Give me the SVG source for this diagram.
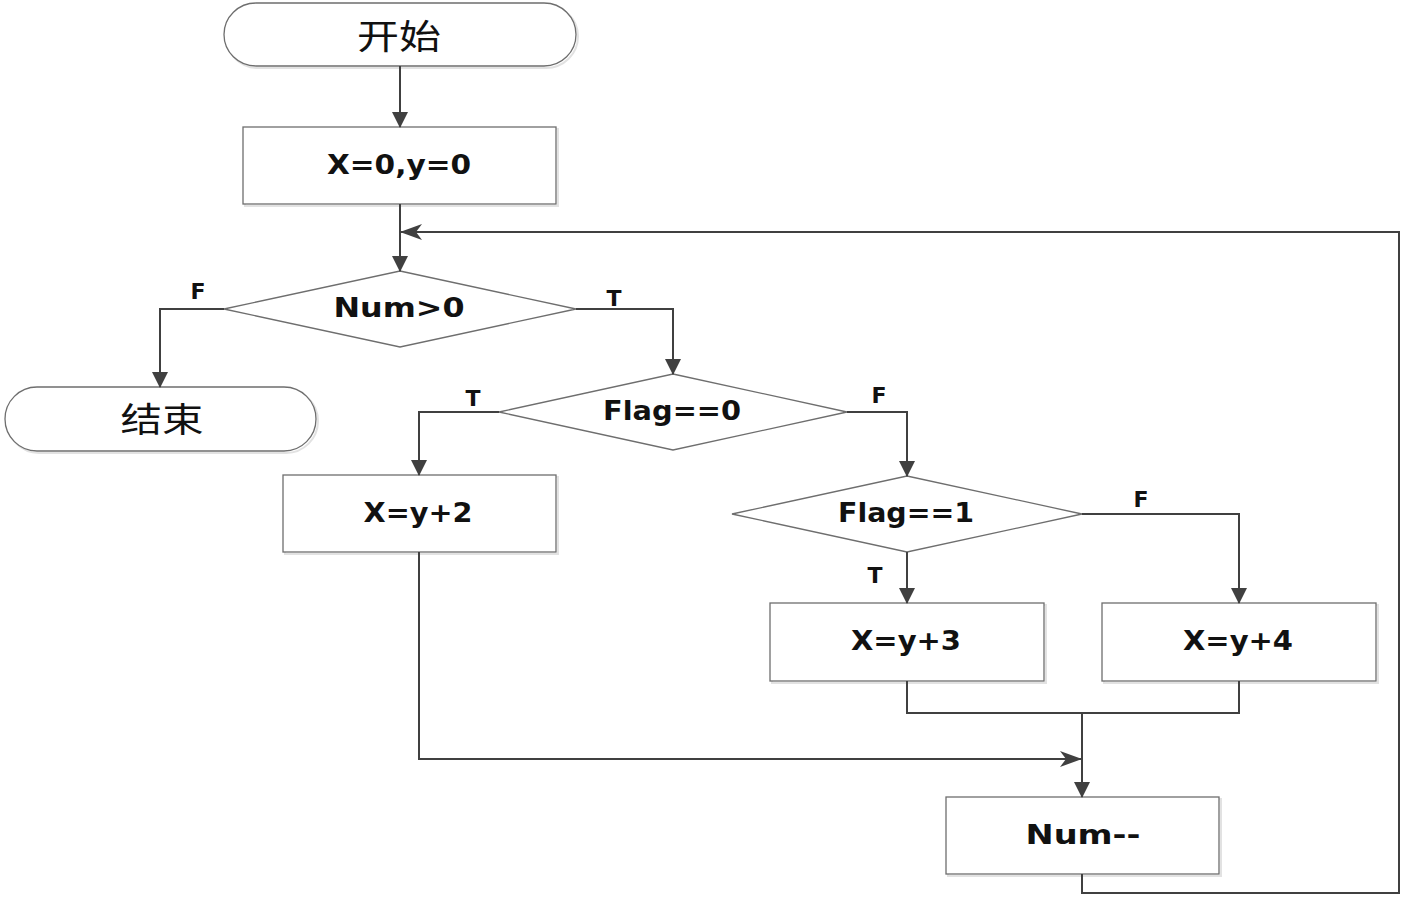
<svg xmlns="http://www.w3.org/2000/svg" width="1406" height="898" viewBox="0 0 1406 898">
<defs>
<marker id="arr" markerWidth="16" markerHeight="16" viewBox="0 0 16 16" refX="15" refY="8" orient="auto" markerUnits="userSpaceOnUse">
<path d="M0,0 L16,8 L0,16 z" fill="#404040"/>
</marker>
<marker id="arrs" markerWidth="22" markerHeight="16" viewBox="0 0 22 16" refX="21" refY="8" orient="auto" markerUnits="userSpaceOnUse">
<path d="M0,0 L22,8 L0,16 L6,8 z" fill="#404040"/>
</marker>
</defs>
<style>
.shape{fill:#ffffff;stroke:#6e6e6e;stroke-width:1.3}
.shadow{fill:none;stroke:#e2e2e2;stroke-width:2}
.lbl{font-family:"DejaVu Sans","Liberation Sans",sans-serif;font-weight:bold;font-size:26px;fill:#111;text-anchor:middle;dominant-baseline:central}
.tf{font-family:"DejaVu Sans","Liberation Sans",sans-serif;font-weight:bold;font-size:22px;fill:#111;text-anchor:middle;dominant-baseline:central}
.cjk{font-family:"Noto Sans CJK SC",sans-serif;font-size:34px;fill:#111;text-anchor:middle;dominant-baseline:central}
.conn{fill:none;stroke:#404040;stroke-width:2}
</style>
<g id="start">
<rect x="226" y="5" width="352" height="63" rx="32" class="shadow"/>
<rect x="224" y="3" width="352" height="63" rx="32" class="shape"/>
<text x="399" y="34" class="cjk" textLength="84" lengthAdjust="spacingAndGlyphs">开始</text>
</g>
<g id="init">
<rect x="245" y="129" width="313" height="77" class="shadow"/>
<rect x="243" y="127" width="313" height="77" class="shape"/>
<text x="399" y="165" class="lbl" textLength="144" lengthAdjust="spacingAndGlyphs">X=0,y=0</text>
</g>
<g id="num-check">
<polygon points="400,271 576,309 400,347 224,309" class="shape"/>
<text x="399" y="308" class="lbl" textLength="131" lengthAdjust="spacingAndGlyphs">Num&gt;0</text>
</g>
<g id="end">
<rect x="7" y="389" width="311" height="64" rx="32" class="shadow"/>
<rect x="5" y="387" width="311" height="64" rx="32" class="shape"/>
<text x="162" y="417" class="cjk" textLength="83" lengthAdjust="spacingAndGlyphs">结束</text>
</g>
<g id="flag0">
<polygon points="673,374 847,412 673,450 499,412" class="shape"/>
<text x="672" y="411" class="lbl" textLength="138" lengthAdjust="spacingAndGlyphs">Flag==0</text>
</g>
<g id="box-y2">
<rect x="285" y="477" width="273" height="77" class="shadow"/>
<rect x="283" y="475" width="273" height="77" class="shape"/>
<text x="418" y="513" class="lbl" textLength="109" lengthAdjust="spacingAndGlyphs">X=y+2</text>
</g>
<g id="flag1">
<polygon points="907,476 1082,514 907,552 732,514" class="shape"/>
<text x="906" y="513" class="lbl" textLength="136" lengthAdjust="spacingAndGlyphs">Flag==1</text>
</g>
<g id="box-y3">
<rect x="772" y="605" width="274" height="78" class="shadow"/>
<rect x="770" y="603" width="274" height="78" class="shape"/>
<text x="906" y="641" class="lbl" textLength="110" lengthAdjust="spacingAndGlyphs">X=y+3</text>
</g>
<g id="box-y4">
<rect x="1104" y="605" width="274" height="78" class="shadow"/>
<rect x="1102" y="603" width="274" height="78" class="shape"/>
<text x="1238" y="641" class="lbl" textLength="110" lengthAdjust="spacingAndGlyphs">X=y+4</text>
</g>
<g id="num-dec">
<rect x="948" y="799" width="273" height="77" class="shadow"/>
<rect x="946" y="797" width="273" height="77" class="shape"/>
<text x="1083" y="835" class="lbl" textLength="115" lengthAdjust="spacingAndGlyphs">Num--</text>
</g>
<g id="connectors">
<path d="M400,66 V127" class="conn" marker-end="url(#arr)"/>
<path d="M400,204 V271" class="conn" marker-end="url(#arr)"/>
<path d="M224,309 H160 V387" class="conn" marker-end="url(#arr)"/>
<path d="M576,309 H673 V374" class="conn" marker-end="url(#arr)"/>
<path d="M499,412 H419 V475" class="conn" marker-end="url(#arr)"/>
<path d="M847,412 H907 V476" class="conn" marker-end="url(#arr)"/>
<path d="M907,552 V603" class="conn" marker-end="url(#arr)"/>
<path d="M1082,514 H1239 V603" class="conn" marker-end="url(#arr)"/>
<path d="M907,681 V713 H1239 V681" class="conn"/>
<path d="M1082,713 V797" class="conn" marker-end="url(#arr)"/>
<path d="M419,552 V759 H1081" class="conn" marker-end="url(#arrs)"/>
<path d="M1082,874 V893 H1399 V232 H401" class="conn" marker-end="url(#arrs)"/>
<text x="198" y="291" class="tf">F</text>
<text x="614" y="298" class="tf">T</text>
<text x="473" y="398" class="tf">T</text>
<text x="879" y="395" class="tf">F</text>
<text x="875" y="575" class="tf">T</text>
<text x="1141" y="499" class="tf">F</text>
</g>
</svg>
